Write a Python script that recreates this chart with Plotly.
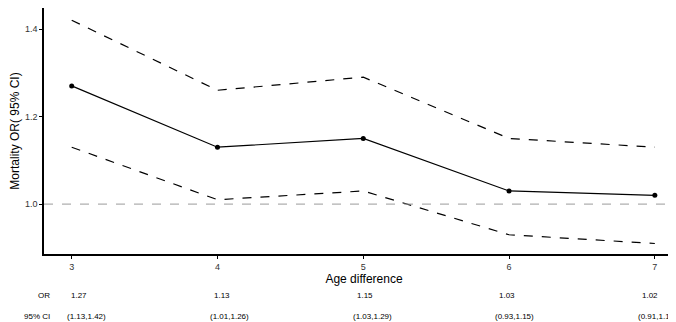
import plotly.graph_objects as go

# data
age_diff = [3, 4, 5, 6, 7]
odds_ratio = [1.27, 1.13, 1.15, 1.03, 1.02]
ci_low = [1.13, 1.01, 1.03, 0.93, 0.91]
ci_high = [1.42, 1.26, 1.29, 1.15, 1.13]
or_text = ['1.27', '1.13', '1.15', '1.03', '1.02']
ci_text = ['(1.13,1.42)', '(1.01,1.26)', '(1.03,1.29)', '(0.93,1.15)', '(0.91,1.13)']

FONT = 'Liberation Sans, Arial, sans-serif'

fig = go.Figure()

# confidence limits
for ci in (ci_high, ci_low):
    fig.add_trace(go.Scatter(
        x=age_diff, y=ci, mode='lines',
        line=dict(color='black', width=1.2, dash='dash'),
        showlegend=False,
    ))

# point estimate
fig.add_trace(go.Scatter(
    x=age_diff, y=odds_ratio, mode='lines+markers',
    line=dict(color='black', width=1.2),
    marker=dict(color='black', size=5),
    showlegend=False,
))

# reference line at OR = 1
fig.add_hline(y=1.0, line=dict(color='#9a9a9a', width=1, dash='dash'))

# table under the plot
row_y = {'OR': -0.195, '95% CI': -0.28}
for label, texts, shift in (('OR', or_text, 0), ('95% CI', ci_text, -4)):
    fig.add_annotation(x=0.0125, y=row_y[label], xref='paper', yref='paper',
                       text=label, showarrow=False, xanchor='right',
                       font=dict(size=8, color='black', family=FONT))
    for xv, t in zip(age_diff, texts):
        fig.add_annotation(x=xv, y=row_y[label], xref='x2', yref='paper',
                           text=t, showarrow=False, xanchor='left', xshift=shift,
                           font=dict(size=8, color='black', family=FONT))

fig.update_layout(
    width=676, height=322,
    margin=dict(l=36, r=0, t=0, b=76),
    plot_bgcolor='white', paper_bgcolor='white',
    font=dict(family=FONT, color='black'),
    xaxis=dict(
        range=[2.81, 7.2], tickvals=age_diff, showgrid=False, zeroline=False,
        showline=True, linecolor='black', linewidth=1.5,
        ticks='outside', ticklen=3, tickcolor='black',
        tickfont=dict(size=9, color='#333333'), automargin=False,
        title=dict(text='Age difference', font=dict(size=12), standoff=0),
    ),
    xaxis2=dict(range=[2.825, 7.308], overlaying='x', visible=False),
    yaxis=dict(
        range=[0.886, 1.448], tickvals=[1.0, 1.2, 1.4], ticktext=['1.0', '1.2', '1.4'],
        showgrid=False, zeroline=False,
        showline=True, linecolor='black', linewidth=1.5,
        ticks='outside', ticklen=3, tickcolor='black',
        tickfont=dict(size=9, color='#333333'), automargin=False,
        title=dict(text='Mortality OR( 95% CI)', font=dict(size=12), standoff=4),
    ),
)

fig.write_html('out.html')
